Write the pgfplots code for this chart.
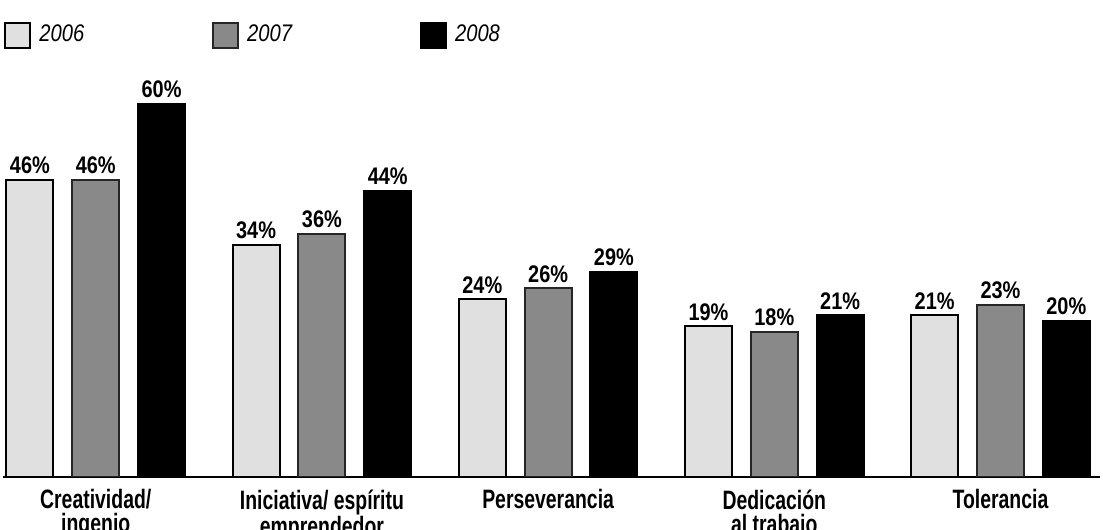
\documentclass[border=0pt]{standalone}
\usepackage{fontspec}
\setmainfont{Liberation Sans}[FakeStretch=0.84]
\newfontfamily\labfont{Liberation Sans}[FakeStretch=0.83]
\newfontfamily\catfont{Liberation Sans}[FakeStretch=0.73]
\usepackage{pgfplots}
\pgfplotsset{compat=1.18}
\usepackage{pgfplotstable}

\definecolor{c06}{HTML}{E0E0E0}
\definecolor{c07}{HTML}{898989}

% values in percent, one row per category
\pgfplotstableread{
x v06 v07 v08
0 46 46 60
1 34 36 44
2 24 26 29
3 19 18 21
4 21 23 20
}\datatable
% bars in the reference rise from a baseline below zero
\def\off{8.8}

\begin{document}
\begin{tikzpicture}
\begin{axis}[
    at={(0,0)}, anchor=south west,
    scale only axis, width=548.5pt, height=238.5pt,
    xmin=-0.41, xmax=4.44, ymin=0, ymax=88,
    ybar, bar width=0.208,
    axis x line=bottom, axis y line=none,
    x axis line style={-, line width=1pt},
    xtick={0,1,2,3,4},
    xticklabels={{Creatividad/\\ingenio},{Iniciativa/ espíritu\\emprendedor},{Perseverancia},{Dedicación\\al trabajo},{Tolerancia}},
    xtick style={draw=none}, ytick=\empty,
    xticklabel style={align=center, inner sep=0pt, yshift=-4pt,
        font=\catfont\bfseries\fontsize{13.3}{12}\selectfont},
    point meta=explicit,
    /pgf/number format/assume math mode=true,
    nodes near coords={\pgfmathprintnumber{\pgfplotspointmeta}\%},
    every node near coord/.append style={inner sep=0pt, yshift=2.5pt,
        font=\labfont\bfseries\fontsize{12}{14}\selectfont},
    legend columns=3,
    legend image code/.code={\draw[#1] (0pt,-6.25pt) rectangle (12.5pt,6.25pt);},
    legend style={draw=none, fill=none, inner sep=0pt,
        at={(rel axis cs:0,1)}, anchor=west, xshift=0.5pt, yshift=-17.5pt,
        font=\itshape\fontsize{12}{14}\selectfont,
        nodes={inner sep=3pt},
        /tikz/every odd column/.append style={column sep=1pt},
        /tikz/every even column/.append style={column sep=61pt}},
]
\addplot[fill=c06, draw=black, line width=1pt, bar shift=-0.291]
    table[x=x, y expr=\thisrow{v06}+\off, meta=v06] {\datatable};
\addlegendentry{2006}
\addplot[fill=c07, draw=black!85, line width=1pt, bar shift=0]
    table[x=x, y expr=\thisrow{v07}+\off, meta=v07] {\datatable};
\addlegendentry{2007}
\addplot[fill=black, draw=black, line width=1pt, bar shift=0.291]
    table[x=x, y expr=\thisrow{v08}+\off, meta=v08] {\datatable};
\addlegendentry{2008}
\end{axis}
\pgfresetboundingbox
\path (-1.5pt,-26.5pt) rectangle (550pt,238.5pt);
\end{tikzpicture}
\end{document}
